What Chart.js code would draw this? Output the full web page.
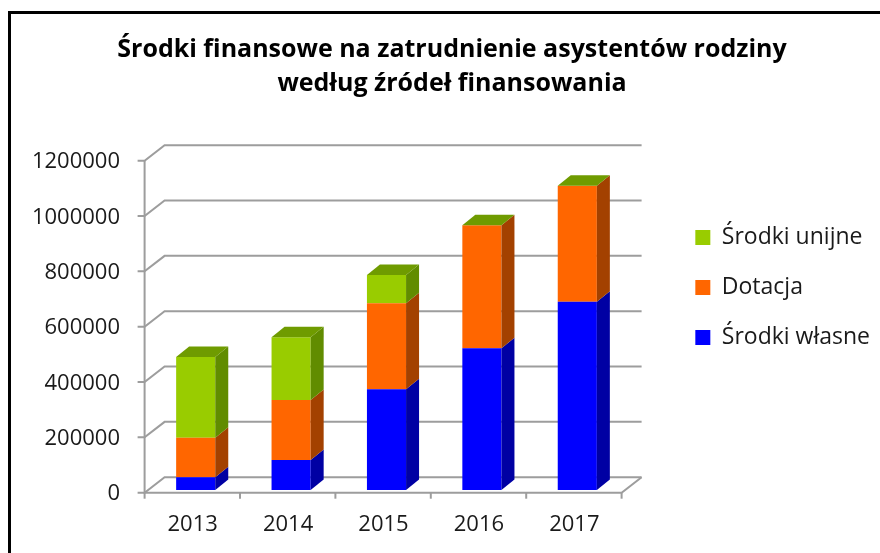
<!DOCTYPE html>
<html>
<head>
<meta charset="utf-8">
<script src="https://cdn.jsdelivr.net/npm/chart.js@4.4.1/dist/chart.umd.min.js"></script>
<style>
  html, body { margin: 0; padding: 0; background: #fff; }
  #wrap { position: relative; width: 880px; height: 553px; overflow: hidden; }
</style>
</head>
<body>
<div id="wrap"><canvas id="chart" width="880" height="553"></canvas></div>
<script>
// data
var years = ["2013", "2014", "2015", "2016", "2017"];
var wlasne = [46000, 108000, 364000, 512000, 680000];
var dotacja = [143000, 217000, 311000, 445000, 420000];
var unijne = [292000, 227000, 102000, 0, 0];
var seriesNames = ["Środki własne", "Dotacja", "Środki unijne"];
var titleLines = ["Środki finansowe na zatrudnienie asystentów rodziny", "według źródeł finansowania"];
var yMax = 1200000, yStep = 200000;

// styles
var FONT = '"Open Sans", sans-serif';
var frontColors = ["#0000ff", "#ff6600", "#99cc00"];
var sideColors = ["#0000a3", "#a34100", "#618c00"];
var topColor = "#6f9b00";
var gridColor = "#9d9d9d";

// 3d offsets (bar plane -> front plane / back wall), bar depth
var FX = -3.4, FY = 2.7, BX = 16.6, BY = -12.8;
var DX = 13, DY = -10.5;

// legend width, so that the chart area ends where the floor ends
var legendFont = 23, legendPad = 27, legendBox = 15;
var mc = document.createElement('canvas').getContext('2d');
mc.font = legendFont + 'px ' + FONT;
var textW = Math.max.apply(null, seriesNames.map(function (t) { return mc.measureText(t).width; }));
var legendW = legendPad + legendBox + legendFont / 2 + textW + 10;
var gapW = 880 - 625 - legendW;

var depth3d = {
  id: 'depth3d',
  beforeDraw: function (chart) {
    var ctx = chart.ctx;
    ctx.save();
    ctx.fillStyle = '#fff';
    ctx.fillRect(0, 0, chart.width, chart.height);
    ctx.strokeStyle = '#000';
    ctx.lineWidth = 3;
    ctx.strokeRect(9.5, 12.5, 900, 600);
    ctx.restore();
  },
  beforeDatasetsDraw: function (chart) {
    var ctx = chart.ctx, a = chart.chartArea, x = chart.scales.x, y = chart.scales.y;
    ctx.save();
    ctx.strokeStyle = gridColor;
    ctx.lineWidth = 2;
    y.ticks.forEach(function (t) {
      var py = y.getPixelForValue(t.value);
      ctx.beginPath();
      ctx.moveTo(a.left + FX - 7, py + FY);
      ctx.lineTo(a.left + FX, py + FY);
      ctx.lineTo(a.left + BX, py + BY);
      ctx.lineTo(a.right + BX, py + BY);
      ctx.stroke();
    });
    var y0 = y.getPixelForValue(0), yTop = y.getPixelForValue(yMax);
    // front axis
    ctx.beginPath();
    ctx.moveTo(a.left + FX, yTop + FY);
    ctx.lineTo(a.left + FX, y0 + FY);
    // floor front edge + right side
    ctx.lineTo(a.right + FX, y0 + FY);
    ctx.lineTo(a.right + BX, y0 + BY);
    ctx.stroke();
    // category ticks
    var cw = (a.right - a.left) / years.length;
    for (var i = 0; i <= years.length; i++) {
      var px = (i < years.length ? x.getPixelForValue(i) - cw / 2 : x.getPixelForValue(i - 1) + cw / 2) + FX;
      ctx.beginPath();
      ctx.moveTo(px, y0 + FY);
      ctx.lineTo(px, y0 + FY + 6);
      ctx.stroke();
    }
    ctx.restore();
  },
  afterDatasetsDraw: function (chart) {
    var ctx = chart.ctx;
    ctx.save();
    chart.data.datasets.forEach(function (ds, di) {
      var meta = chart.getDatasetMeta(di);
      meta.data.forEach(function (bar) {
        var p = bar.getProps(['x', 'y', 'base', 'width'], true);
        if (Math.abs(p.base - p.y) < 0.5) return;
        var xr = p.x + p.width / 2;
        ctx.fillStyle = sideColors[di];
        ctx.beginPath();
        ctx.moveTo(xr, p.y);
        ctx.lineTo(xr + DX, p.y + DY);
        ctx.lineTo(xr + DX, p.base + DY);
        ctx.lineTo(xr, p.base);
        ctx.closePath();
        ctx.fill();
      });
    });
    var last = chart.getDatasetMeta(chart.data.datasets.length - 1);
    last.data.forEach(function (bar) {
      var p = bar.getProps(['x', 'y', 'width'], true);
      var xl = p.x - p.width / 2, xr = p.x + p.width / 2;
      ctx.fillStyle = topColor;
      ctx.beginPath();
      ctx.moveTo(xl, p.y);
      ctx.lineTo(xl + DX, p.y + DY);
      ctx.lineTo(xr + DX, p.y + DY);
      ctx.lineTo(xr, p.y);
      ctx.closePath();
      ctx.fill();
    });
    ctx.restore();
  }
};

Chart.defaults.font.family = FONT;
Chart.defaults.color = '#1a1a1a';

var ctx = document.getElementById('chart');
var myChart = new Chart(ctx, {
  type: 'bar',
  data: {
    labels: years,
    datasets: [
      { label: seriesNames[0], data: wlasne, backgroundColor: frontColors[0] },
      { label: seriesNames[1], data: dotacja, backgroundColor: frontColors[1] },
      { label: seriesNames[2], data: unijne, backgroundColor: frontColors[2] }
    ]
  },
  options: {
    responsive: false,
    animation: false,
    layout: { padding: { left: 24, right: 0, top: 0, bottom: 0 } },
    datasets: { bar: { categoryPercentage: 1, barPercentage: 0.41, borderWidth: 0 } },
    scales: {
      x: {
        stacked: true,
        grid: { display: false, drawTicks: false },
        border: { display: false },
        ticks: { font: { size: 22 }, padding: 22, labelOffset: -3 },
        afterFit: function (s) { s.height = 63; }
      },
      y: {
        stacked: true,
        min: 0,
        max: yMax,
        grid: { display: false, drawTicks: false },
        border: { display: false },
        ticks: {
          stepSize: yStep,
          font: { size: 22 },
          padding: 28,
          labelOffset: 4,
          callback: function (v) { return String(v); }
        },
        afterFit: function (s) { s.width = 124; }
      },
      gap: {
        type: 'linear',
        position: 'right',
        grid: { display: false, drawTicks: false },
        border: { display: false },
        ticks: { display: false },
        afterFit: function (s) { s.width = gapW; }
      }
    },
    plugins: {
      title: {
        display: true,
        text: titleLines,
        color: '#000',
        font: { size: 25, weight: 'bold', lineHeight: '34px' },
        padding: { top: 33, bottom: 57 }
      },
      legend: {
        position: 'right',
        reverse: true,
        maxWidth: 400,
        title: { display: true, text: '', font: { size: 10 }, padding: { top: 10, bottom: 0 } },
        labels: {
          boxWidth: legendBox,
          boxHeight: legendBox,
          padding: legendPad,
          font: { size: legendFont }
        }
      },
      tooltip: { enabled: false }
    }
  },
  plugins: [depth3d]
});
</script>
</body>
</html>
